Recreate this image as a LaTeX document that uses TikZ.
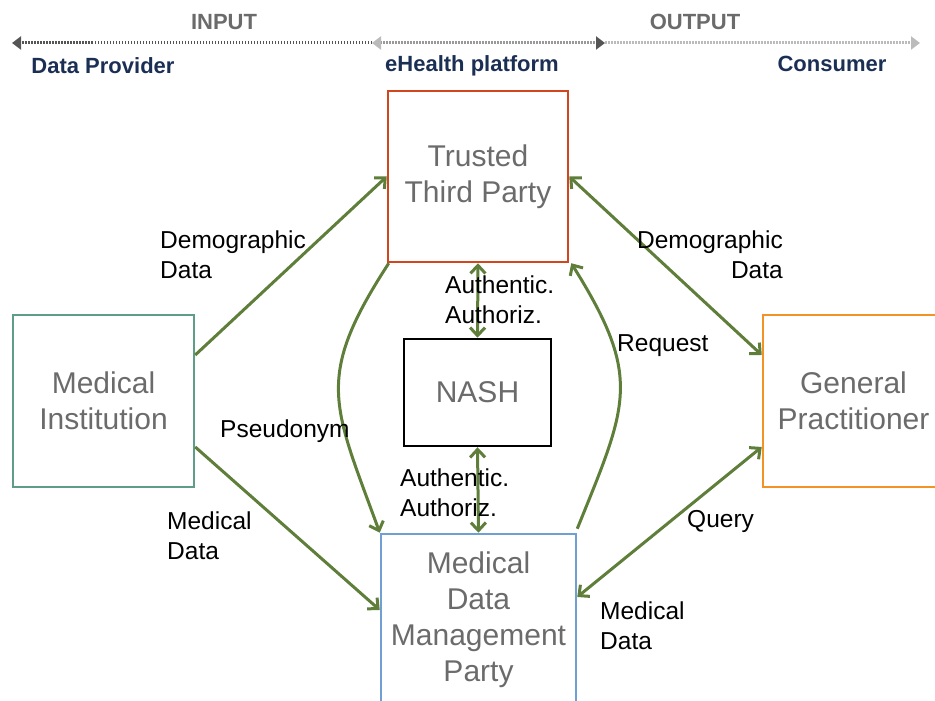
\documentclass[tikz,border=0pt]{standalone}
\usepackage{fontspec}
\setmainfont{Liberation Sans}
\usetikzlibrary{arrows.meta}

\definecolor{flowgreen}{HTML}{5E7E3A}
\definecolor{ttpred}{HTML}{D2461E}
\definecolor{instgreen}{HTML}{5E9E88}
\definecolor{gporange}{HTML}{F39325}
\definecolor{mdmpblue}{HTML}{6F9FD3}
\definecolor{boxtext}{HTML}{6B6B6B}
\definecolor{rolenavy}{HTML}{1B2F55}
\definecolor{bardark}{HTML}{555555}
\definecolor{barmid}{HTML}{999999}
\definecolor{barlight}{HTML}{BBBBBB}

\begin{document}
\begin{tikzpicture}[x=1pt,y=1pt,
    party/.style={rectangle, draw=#1, line width=2.5pt, align=center, text=boxtext,
        font=\fontsize{30}{36}\selectfont, inner sep=0pt},
    flow/.style={draw=flowgreen, line width=3pt, -{Straight Barb[length=8pt,width=15pt]}},
    both/.style={flow, {Straight Barb[length=8pt,width=15pt]}-{Straight Barb[length=8pt,width=15pt]}},
    lbl/.style={font=\fontsize{24.5}{30}\selectfont, align=left, inner sep=0pt},
    bar/.style={line width=3pt, dash pattern=on 1.5pt off 1.5pt},
    phase/.style={font=\fontsize{22}{26}\selectfont\bfseries, text=boxtext},
    role/.style={font=\fontsize{22}{26}\selectfont\bfseries, text=rolenavy}]

    \useasboundingbox (0,0) rectangle (935,701);
    \clip (0,0) rectangle (935,701);

    % top bar: input / output
    \coordinate (barL) at (12,658);
    \coordinate (barM1) at (372,658);
    \coordinate (barM2) at (605,658);
    \coordinate (barR) at (920,658);

    \draw[bar, draw=bardark, -{Triangle[length=9pt,width=13pt,color=bardark]}] (barM1) -- (barL);
    \draw[bar, draw=barmid, {Triangle[length=9pt,width=13pt,color=barlight]}-{Triangle[length=9pt,width=13pt,color=bardark]}] (barM1) -- (barM2);
    \draw[bar, draw=barlight, -{Triangle[length=9pt,width=13pt,color=barlight]}] (barM2) -- (barR);

    \node[phase] (input) at (224,679) {INPUT};
    \node[phase] (output) at (695,679) {OUTPUT};
    \node[role] (provider) at (103,635) {Data Provider};
    \node[role] (platform) at (472,635) {eHealth platform};
    \node[role] (consumer) at (832,637) {Consumer};

    % parties
    \node[party=ttpred, minimum width=180pt, minimum height=171pt] (ttp) at (478,524.5) {Trusted\\Third Party};
    \node[party=black, minimum width=147pt, minimum height=107pt] (nash) at (477.5,308.5) {NASH};
    \node[party=instgreen, minimum width=181pt, minimum height=172pt] (inst) at (103.5,300) {Medical\\Institution};
    \node[party=gporange, minimum width=181pt, minimum height=172pt] (gp) at (853.5,300) {General\\Practitioner};
    \node[party=mdmpblue, minimum width=195pt, minimum height=172pt] (mdmp) at (478.5,81) {Medical\\Data\\Management\\Party};

    % flows
    \draw[flow] ([yshift=46pt]inst.east) -- (ttp.west);
    \draw[flow] ([yshift=-46pt]inst.east) -- ([yshift=10pt]mdmp.west);
    \draw[flow] ([xshift=2pt]ttp.south west) to[out=-123,in=110,looseness=1.3] (mdmp.north west);
    \draw[flow] ([yshift=4pt]mdmp.north east) to[out=68,in=-58,looseness=1.3] ([xshift=2pt]ttp.south east);
    \draw[both] (ttp.south) -- (nash.north);
    \draw[both] (nash.south) -- (mdmp.north);
    \draw[both] (ttp.east) -- ([yshift=46pt]gp.west);
    \draw[both] ([yshift=-46pt]gp.west) -- ([yshift=23pt]mdmp.east);

    % labels
    \node[lbl, anchor=west] (demoin) at (160,446) {Demographic\\Data};
    \node[lbl, anchor=west] (medin) at (167,165) {Medical\\Data};
    \node[lbl, anchor=west] (pseudo) at (220,270) {Pseudonym};
    \node[lbl, anchor=west] (request) at (617,355) {Request};
    \node[lbl, anchor=west] (authtop) at (445,401) {Authentic.\\Authoriz.};
    \node[lbl, anchor=west] (authbot) at (400,208) {Authentic.\\Authoriz.};
    \node[lbl, anchor=east, align=right] (demoout) at (783,446) {Demographic\\Data};
    \node[lbl, anchor=west] (query) at (687,180) {Query};
    \node[lbl, anchor=west] (medout) at (600,75) {Medical\\Data};
\end{tikzpicture}
\end{document}
